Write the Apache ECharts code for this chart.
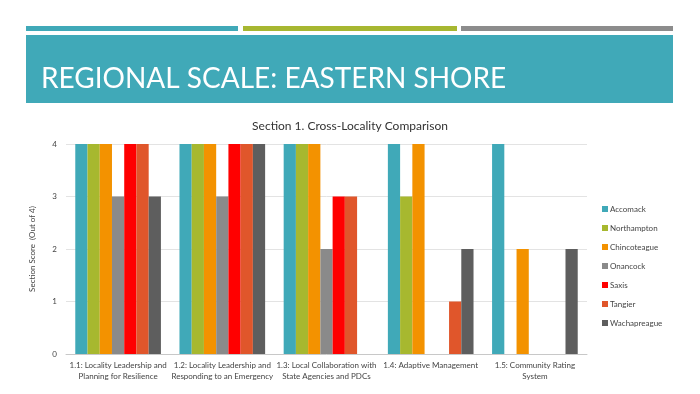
<!DOCTYPE html>
<html><head><meta charset="utf-8">
<script src="https://cdn.jsdelivr.net/npm/echarts@6/dist/echarts.min.js"></script>
<style>html,body{margin:0;padding:0;background:#fff}#c{width:700px;height:394px}</style>
</head><body><div id="c"></div>
<script>
const categories = [
  '1.1: Locality Leadership and\nPlanning for Resilience',
  '1.2: Locality Leadership and\nResponding to an Emergency',
  '1.3: Local Collaboration with\nState Agencies and PDCs',
  '1.4: Adaptive Management',
  '1.5: Community Rating\nSystem'
];
const seriesNames = ['Accomack','Northampton','Chincoteague','Onancock','Saxis','Tangier','Wachapreague'];
const accomack     = [4,4,4,4,4];
const northampton  = [4,4,4,3,0];
const chincoteague = [4,4,4,4,2];
const onancock     = [3,3,2,0,0];
const saxis        = [4,4,3,0,0];
const tangier      = [4,4,3,1,0];
const wachapreague = [3,4,0,2,2];
const yTicks = [0,1,2,3,4];

const values = [accomack,northampton,chincoteague,onancock,saxis,tangier,wachapreague];
const colors = ['#40A9B8','#A7B82F','#F39200','#8A8A8A','#FF0000','#E0562B','#5E5E5E'];
const font = 'Lato, "Open Sans", sans-serif';

const chart = echarts.init(document.getElementById('c'));
chart.setOption({
  animation:false,
  textStyle:{fontFamily:font},
  title:{text:'Section 1. Cross-Locality Comparison',left:'center',top:115,
    textStyle:{fontFamily:font,fontSize:12,fontWeight:'normal',color:'#333'}},
  graphic:[
    {type:'rect',shape:{x:26,y:26,width:212,height:5},style:{fill:'#40A9B8'}},
    {type:'rect',shape:{x:243,y:26,width:214,height:5},style:{fill:'#A7B731'}},
    {type:'rect',shape:{x:461,y:26,width:212,height:5},style:{fill:'#8C8C8C'}},
    {type:'rect',shape:{x:26,y:35,width:647,height:68},style:{fill:'#40A9B8'}},
    {type:'text',x:41,y:65,style:{text:'REGIONAL SCALE: EASTERN SHORE',fill:'#fff',font:'28px '+font}}
  ],
  legend:{orient:'vertical',left:597,top:200,itemWidth:6,itemHeight:6,itemGap:11,
    icon:'rect',data:seriesNames,
    textStyle:{fontFamily:font,fontSize:8,color:'#444',padding:[0,0,0,-3]}},
  grid:{left:66,right:113,top:144,bottom:40},
  xAxis:{type:'category',data:categories,
    axisLine:{lineStyle:{color:'#C8C8C8'}},axisTick:{show:false},
    axisLabel:{fontFamily:font,fontSize:8,color:'#444',lineHeight:11,interval:0,margin:6}},
  yAxis:{type:'value',min:0,max:4,interval:1,
    name:'Section Score  (Out of 4)',nameLocation:'middle',nameGap:30,
    nameTextStyle:{fontFamily:font,fontSize:8,color:'#444'},
    axisLabel:{fontFamily:font,fontSize:8,color:'#444',margin:9},
    splitLine:{lineStyle:{color:'#E3E3E3'}},axisLine:{show:false},axisTick:{show:false}},
  series:seriesNames.map((n,i)=>({name:n,type:'bar',data:values[i],barGap:'0%',barCategoryGap:'17.8%',
    itemStyle:{color:colors[i]}}))
});
</script></body></html>
